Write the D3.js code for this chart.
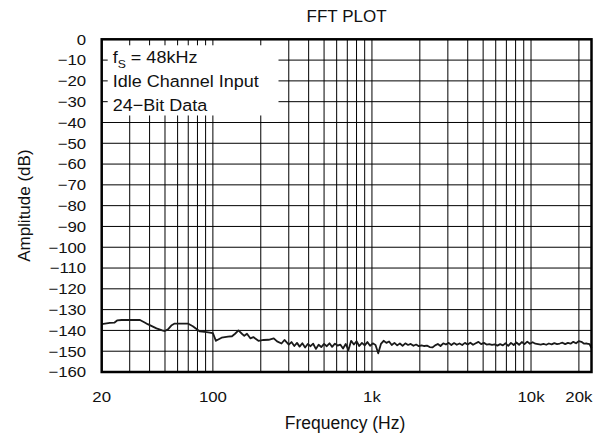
<!DOCTYPE html>
<html>
<head>
<meta charset="utf-8">
<script src="https://cdn.jsdelivr.net/npm/d3@7"></script>
<style>
  body { margin: 0; background: #fff; }
  svg text { font-family: "Liberation Sans", Arial, Helvetica, sans-serif; fill: #111; }
</style>
</head>
<body>
<div id="chart"></div>
<script>
// ---------- Data ----------
const freqHz = [
  20, 22.5, 24, 25, 26.7, 34.8, 37.5, 38.9, 44.2, 48,
  49.9, 52.2, 55.1, 57.5, 69.6, 74.8, 82.8, 91.4, 100, 104.5,
  113.4, 124.5, 131.9, 137.9, 144.8, 152.2, 157.5, 163.8, 171.9, 179.7,
  193.3, 208.2, 224.2, 241.4, 253.2, 270, 281.8, 300, 312, 325,
  338, 351, 365, 380, 395, 411, 427, 444, 462, 480,
  500, 520, 541, 562, 585, 608, 632, 658, 684, 711,
  740, 770, 800, 832, 865, 900, 936, 973, 1012, 1053,
  1095, 1139, 1184, 1232, 1281, 1332, 1385, 1441, 1498, 1558,
  1621, 1686, 1753, 1823, 1896, 1972, 2051, 2133, 2218, 2307,
  2399, 2495, 2595, 2699, 2807, 2919, 3036, 3157, 3283, 3415,
  3551, 3693, 3841, 3995, 4155, 4321, 4494, 4673, 4860, 5055,
  5257, 5467, 5686, 5913, 6150, 6396, 6652, 6918, 7194, 7482,
  7782, 8093, 8417, 8753, 9104, 9468, 9846, 10240, 10650, 11076,
  11519, 11980, 12459, 12957, 13475, 14014, 14575, 15158, 15764, 16395,
  17051, 17733, 18442, 19180, 19947, 20745, 21575, 22438, 23336, 24000
];

const amplitudeDb = [
  -137.0, -136.4, -136.3, -135.2, -135.0, -135.0, -136.3, -137.0, -139.0, -140.0,
  -140.3, -139.5, -137.5, -136.7, -136.7, -138.0, -140.5, -140.8, -141.3, -145.0,
  -143.5, -143.0, -142.8, -141.6, -140.0, -141.6, -142.6, -141.6, -143.8, -143.2,
  -145.0, -144.6, -144.5, -143.8, -145.3, -146.3, -144.6, -146.8, -145.6, -147.5,
  -146.0, -147.8, -146.2, -148.2, -146.5, -147.6, -146.4, -148.9, -146.9, -148.0,
  -146.5, -147.6, -146.2, -147.9, -146.4, -147.3, -146.8, -148.7, -146.5, -149.5,
  -145.0, -146.8, -145.2, -147.5, -146.0, -147.2, -145.6, -147.4, -146.2, -147.0,
  -151.0, -146.5, -145.0, -146.0, -145.3, -147.0, -146.0, -147.2, -146.3, -147.4,
  -146.2, -147.0, -146.5, -147.4, -146.8, -147.6, -147.2, -147.5, -147.3, -148.0,
  -148.2, -147.2, -146.5, -147.5, -146.2, -146.8, -146.0, -147.0, -146.1, -146.9,
  -146.3, -147.0, -146.0, -146.8, -145.9, -146.9, -146.2, -145.5, -146.6, -146.0,
  -146.8, -146.6, -147.0, -146.7, -147.3, -146.6, -147.2, -146.2, -147.4, -146.0,
  -147.0, -145.8, -146.9, -145.6, -146.6, -145.4, -146.4, -145.7, -146.4, -146.6,
  -146.8, -146.5, -146.9, -146.3, -146.7, -146.1, -146.6, -146.3, -145.9, -146.6,
  -146.0, -146.4, -145.5, -146.2, -145.2, -145.5, -146.4, -146.3, -146.6, -148.5
];

const yTicks = [0, -10, -20, -30, -40, -50, -60, -70, -80, -90, -100,
                -110, -120, -130, -140, -150, -160];
const xLabelTicks = [20, 100, 1000, 10000, 20000];
const xLabelText = ["20", "100", "1k", "10k", "20k"];
const xGridTicks = [30, 40, 50, 60, 70, 80, 90, 100, 200, 300, 400, 500, 600, 700, 800, 900,
                    1000, 2000, 3000, 4000, 5000, 6000, 7000, 8000, 9000, 10000, 20000];
const noteLines = ["Idle Channel Input", "24\u2212Bit Data"];

// ---------- Layout ----------
const width = 608, height = 441;
const margin = { top: 39.3, right: 16.5, bottom: 69, left: 101.7 };
const innerWidth = width - margin.left - margin.right;
const innerHeight = height - margin.top - margin.bottom;

const svg = d3.select("#chart").append("svg")
  .attr("width", width)
  .attr("height", height);

const g = svg.append("g")
  .attr("transform", `translate(${margin.left},${margin.top})`);

// ---------- Scales ----------
const x = d3.scaleLog().domain([20, 24000]).range([0, innerWidth]);
const y = d3.scaleLinear().domain([-160, 0]).range([innerHeight, 0]);
const minus = v => String(v).replace("-", "\u2212");

// the source typeface is a little wider than Liberation Sans
function stretchedText(parent, tx, ty, size, sx, anchor) {
  return parent.append("text")
    .attr("transform", `translate(${tx},${ty}) scale(${sx},1)`)
    .attr("font-size", size)
    .attr("text-anchor", anchor || "start");
}

// ---------- Grid ----------
g.append("g")
  .selectAll("line")
  .data(xGridTicks)
  .join("line")
  .attr("x1", d => x(d)).attr("x2", d => x(d))
  .attr("y1", 0).attr("y2", innerHeight)
  .attr("stroke", "#000").attr("stroke-width", 1);

g.append("g")
  .selectAll("line")
  .data(yTicks.slice(1, -1))
  .join("line")
  .attr("x1", 0).attr("x2", innerWidth)
  .attr("y1", d => y(d)).attr("y2", d => y(d))
  .attr("stroke", "#000").attr("stroke-width", 1);

// ---------- Note box (covers grid, keeps small edge ticks) ----------
const boxRight = x(270) - 3;
const boxBottom = y(-40);
const note = g.append("g");
note.append("rect")
  .attr("x", 0).attr("y", 0)
  .attr("width", boxRight).attr("height", boxBottom - 0.5)
  .attr("fill", "#fff");

const boxTicks = xGridTicks.filter(d => x(d) < boxRight);
note.append("g").selectAll("line")
  .data(boxTicks).join("line")
  .attr("x1", d => x(d)).attr("x2", d => x(d))
  .attr("y1", 0).attr("y2", 6)
  .attr("stroke", "#000");
note.append("g").selectAll("line")
  .data(boxTicks).join("line")
  .attr("x1", d => x(d)).attr("x2", d => x(d))
  .attr("y1", boxBottom - 7).attr("y2", boxBottom)
  .attr("stroke", "#000");
note.append("g").selectAll("line")
  .data([-10, -20, -30]).join("line")
  .attr("x1", 0).attr("x2", 6)
  .attr("y1", d => y(d)).attr("y2", d => y(d))
  .attr("stroke", "#000");

const fsText = stretchedText(note, 11, 24, 17, 1.06);
fsText.append("tspan").text("f");
fsText.append("tspan").attr("font-size", 11.5).attr("dy", 4.5).text("S");
fsText.append("tspan").attr("dy", -4.5).text(" = 48kHz");

noteLines.forEach((t, i) => {
  stretchedText(note, 11, 47.5 + i * 24.5, 17, 1.06).text(t);
});

// ---------- Series ----------
const series = freqHz.map((f, i) => ({ f, v: amplitudeDb[i] }));
g.append("path")
  .datum(series)
  .attr("fill", "none")
  .attr("stroke", "#1a1a1a")
  .attr("stroke-width", 1.8)
  .attr("stroke-linejoin", "round")
  .attr("d", d3.line().x(d => x(d.f)).y(d => y(d.v)));

// ---------- Frame ----------
g.append("rect")
  .attr("width", innerWidth).attr("height", innerHeight)
  .attr("fill", "none").attr("stroke", "#000").attr("stroke-width", 2.5);

// ---------- Tick labels ----------
yTicks.forEach(d => {
  stretchedText(g, -15.5, y(d) + 5.4, 15, 1.12, "end").text(minus(d));
});

xLabelTicks.forEach((d, i) => {
  stretchedText(g, x(d), innerHeight + 30, 15, 1.12, "middle").text(xLabelText[i]);
});

// ---------- Titles ----------
svg.append("text")
  .attr("x", margin.left + innerWidth / 2)
  .attr("y", 22)
  .attr("text-anchor", "middle")
  .attr("font-size", 17)
  .text("FFT PLOT");

svg.append("text")
  .attr("x", 345)
  .attr("y", 429)
  .attr("text-anchor", "middle")
  .attr("font-size", 17.5)
  .text("Frequency (Hz)");

svg.append("text")
  .attr("transform", "rotate(-90)")
  .attr("x", -(margin.top + innerHeight / 2))
  .attr("y", 30)
  .attr("text-anchor", "middle")
  .attr("font-size", 17)
  .text("Amplitude (dB)");
</script>
</body>
</html>
